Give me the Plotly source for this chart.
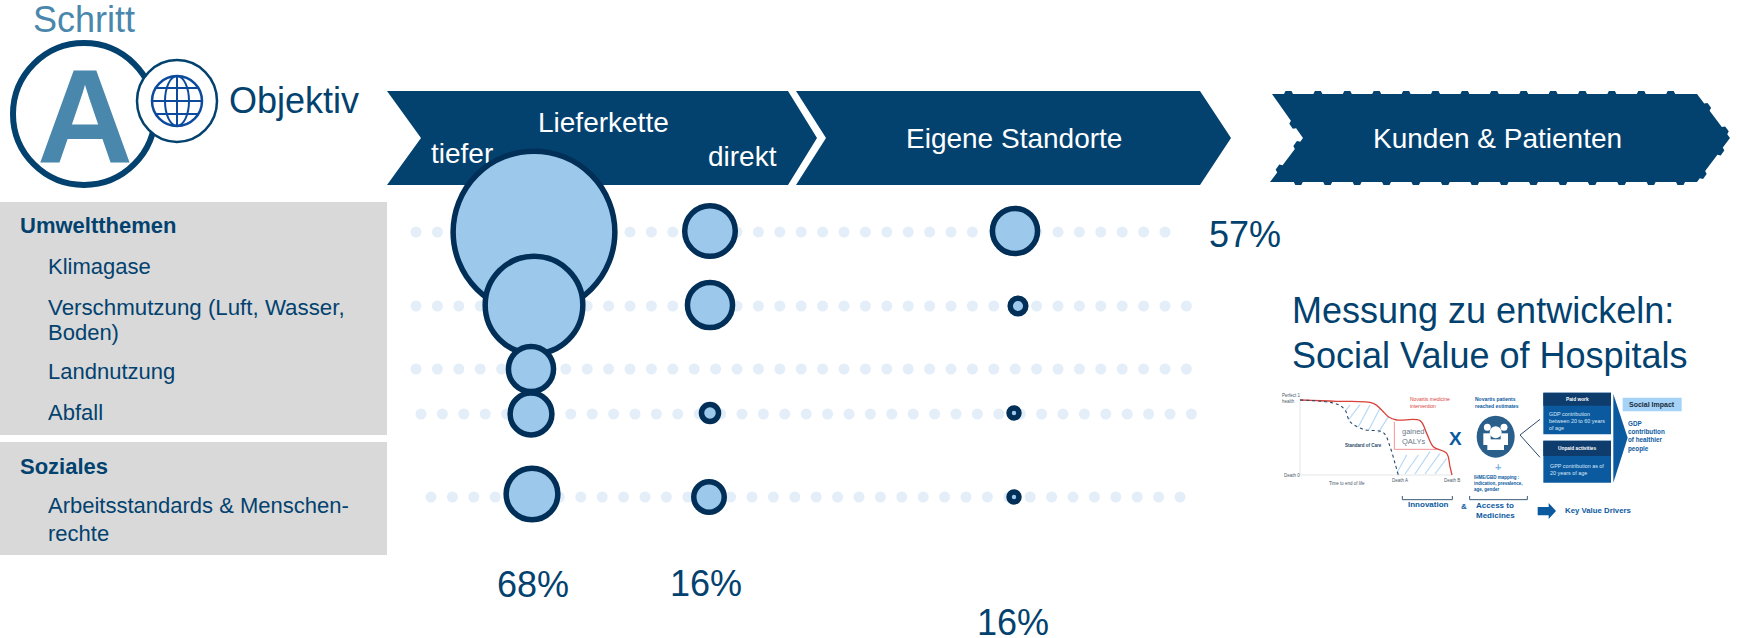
import plotly.graph_objects as go

FONT = "Liberation Sans"
NAVY = "#03426F"
STEEL = "#4A87AD"
BUB = "#9BC8EB"
BUBLINE = "#012F57"
DOT = "#E4EEF8"
GREY = "#D9D9D9"
INK = "#0B5AA0"

# ---- data ----
stages = ["tiefer", "direkt", "Eigene Standorte"]
topics = ["Klimagase", "Verschmutzung", "Landnutzung", "Abfall", "Arbeitsstandards"]
row_y = [232, 306, 369, 414, 497]
# estimated impact share (bubble area) per topic and stage, None = no bubble
impact_tiefer = [45.0, 16.4, 3.5, 3.0, 4.6]
impact_direkt = [4.4, 3.5, None, 0.5, 1.6]
impact_eigene = [3.5, 0.42, None, 0.17, 0.17]
x_tiefer = [534, 534, 531, 531, 532]
x_direkt = [710, 710, None, 710, 709]
x_eigene = [1015, 1018, None, 1014, 1014]
y_tiefer = [232, 305, 369, 414, 494]
y_direkt = [231, 305, None, 413, 497]
y_eigene = [231, 306, None, 413, 497]
area_scale = 0.00344
# leader dots: first x, last x per topic
dot_start = [416, 416, 416, 421, 431]
dot_end = [1170, 1187, 1187, 1193, 1199]
dot_step = 21.4

curve_x_novartis = [150, 260, 370, 395, 415, 440, 510, 530, 550, 590, 600, 606]
curve_y_novartis = [90, 94, 100, 120, 140, 150, 152, 190, 230, 250, 290, 315]
curve_x_soc = [150, 260, 285, 300, 340, 400, 420, 435, 445]
curve_y_soc = [90, 102, 120, 155, 178, 188, 230, 280, 315]

fig = go.Figure()
shapes = []
ann = []


def text(x, y, s, size, color=NAVY, anchor="left", bold=False, family=FONT):
    ann.append(dict(x=x, y=y, text=("<b>%s</b>" % s) if bold else s, showarrow=False,
                    xanchor=anchor, yanchor="middle", xref="x", yref="y",
                    font=dict(family=family, size=size, color=color), align="left",
                    borderpad=0, borderwidth=0))


def poly(points, fill, line=None, lw=0):
    p = "M " + " L ".join("%.2f,%.2f" % pt for pt in points) + " Z"
    shapes.append(dict(type="path", path=p, fillcolor=fill, xref="x", yref="y", layer="below",
                       line=dict(width=lw, color=line or fill)))


def rect(x0, y0, x1, y1, fill, line=None, lw=0):
    shapes.append(dict(type="rect", x0=x0, y0=y0, x1=x1, y1=y1, fillcolor=fill, xref="x", yref="y",
                       layer="below", line=dict(width=lw, color=line or fill)))


def oval(cx, cy, rx, ry, fill="rgba(0,0,0,0)", line=None, lw=0):
    shapes.append(dict(type="circle", x0=cx - rx, x1=cx + rx, y0=cy - ry, y1=cy + ry, fillcolor=fill,
                       xref="x", yref="y", layer="below", line=dict(width=lw, color=line or fill)))


def seg(x0, y0, x1, y1, color, lw=1, dash=None):
    shapes.append(dict(type="line", x0=x0, x1=x1, y0=y0, y1=y1, xref="x", yref="y", layer="below",
                       line=dict(width=lw, color=color, dash=dash or "solid")))


def tabbed(corners, period=29.4, w=9, h=3):
    out = []
    n = len(corners)
    for i in range(n):
        (x0, y0), (x1, y1) = corners[i], corners[(i + 1) % n]
        dx, dy = x1 - x0, y1 - y0
        L = (dx * dx + dy * dy) ** 0.5
        ux, uy = dx / L, dy / L
        nx, ny = uy, -ux
        out.append((x0, y0))
        t = 12.0
        while t + w < L - 4:
            for a, o in ((t, 0), (t + 1.5, h), (t + w - 1.5, h), (t + w, 0)):
                out.append((x0 + ux * a + nx * o, y0 + uy * a + ny * o))
            t += period
    return out


# ---- chevrons ----
poly([(387, 91), (788, 91), (817, 138), (788, 185), (387, 185), (421, 138)], NAVY)
poly([(796, 91), (1200, 91), (1231, 138), (1200, 185), (796, 185), (826, 138)], NAVY)
poly(tabbed([(1272, 94), (1697, 94), (1730, 138), (1697, 182), (1270, 182), (1303, 138)]), NAVY)
text(603, 122, "Lieferkette", 28, "white", "center")
text(708, 156, "direkt", 28, "white")
text(1014, 138, "Eigene Standorte", 28, "white", "center")
text(1497, 138, "Kunden &amp; Patienten", 28, "white", "center")

# ---- left panels ----
rect(0, 202, 387, 435, GREY)
rect(0, 442, 387, 555, GREY)
text(20, 225, "Umweltthemen", 22, bold=True)
text(48, 266, "Klimagase", 22)
text(48, 307, "Verschmutzung (Luft, Wasser,", 22.3)
text(48, 332, "Boden)", 22)
text(48, 371, "Landnutzung", 22)
text(48, 412, "Abfall", 22)
text(20, 466, "Soziales", 22, bold=True)
text(48, 505, "Arbeitsstandards &amp; Menschen-", 22)
text(48, 533, "rechte", 22)

# ---- logo ----
text(33, 19, "Schritt", 36, STEEL)
text(229, 100, "Objektiv", 36)
oval(84, 114, 71, 71, "white", NAVY, 6)
text(85, 117, "A", 133, STEEL, "center", bold=True)
oval(177, 101, 40, 41, "white", NAVY, 2.5)
GL = "#0B4A9C"
oval(177, 101, 25, 25, "rgba(0,0,0,0)", GL, 2.5)
oval(177, 101, 12, 25, "rgba(0,0,0,0)", GL, 2)
seg(177, 76, 177, 126, GL, 2)
seg(152, 101, 202, 101, GL, 2)
seg(156, 88, 198, 88, GL, 2)
seg(156, 114, 198, 114, GL, 2)

# ---- totals ----
text(1209, 234, "57%", 36)
text(533, 584, "68%", 36, anchor="center")
text(706, 583, "16%", 36, anchor="center")
text(1013, 622, "16%", 36, anchor="center")
text(1292, 310, "Messung zu entwickeln:", 36)
text(1292, 355, "Social Value of Hospitals", 36)


# ---- inset infographic, given in its own sub-frame ----
def ix(v):
    return 1250 + v / 3


def iy(v):
    return 370 + v / 3


def itext(x, y, s, size=6, color="#4A5A6A", anchor="center", bold=False):
    text(ix(x), iy(y), s, size, color, anchor, bold)


seg(ix(150), iy(85), ix(150), iy(315), "#E6E6E6", 1)
seg(ix(150), iy(315), ix(605), iy(315), "#E6E6E6", 1)
HATCH = "#B8D8F4"
for a, b, c, d in [(300, 105, 285, 125), (330, 104, 295, 150), (360, 105, 325, 170), (390, 115, 355, 182),
                   (415, 140, 385, 188), (470, 255, 440, 310), (505, 255, 465, 312), (540, 245, 495, 312),
                   (570, 250, 525, 312), (590, 265, 555, 312)]:
    seg(ix(a), iy(b), ix(c), iy(d), HATCH, 1.2)
seg(ix(433), iy(155), ix(433), iy(238), "#E77", 0.8)
seg(ix(433), iy(238), ix(560), iy(238), "#E77", 0.8)
itext(125, 84, "Perfect 1<br>health", 4.5)
itext(125, 315, "Death 0", 4.5)
itext(290, 340, "Time to end of life", 4.5)
itext(450, 332, "Death A", 4.5)
itext(605, 332, "Death B", 4.5)
itext(340, 226, "Standard of Care", 4.5, "#2A4A6A", bold=True)
itext(490, 198, "gained<br>QALYs", 7.5, "#6A7A8A")
itext(540, 98, "Novartis medicine<br>intervention", 5, "#D9423A")
itext(740, 97, "Novartis patients<br>reached estimates", 5, INK, bold=True)
itext(617, 205, "X", 19, INK, bold=True)
oval(ix(737), iy(200), 19, 21, "#2A5F8C")
for cx, cy, r in [(712, 172, 3.5), (762, 172, 3.5), (737, 187, 6)]:
    oval(ix(cx), iy(cy), r, r, "white")
rect(ix(700), iy(190), ix(722), iy(225), "white")
rect(ix(752), iy(190), ix(774), iy(225), "white")
rect(ix(712), iy(208), ix(762), iy(240), "white")
itext(744, 292, "+", 11, "#7FB2E5", bold=True)
itext(745, 340, "IHME/GBD mapping :<br>indication, prevalence,<br>age, gender", 4.5, INK, bold=True)
seg(ix(810), iy(195), ix(870), iy(148), "#2A4A6A", 1)
seg(ix(810), iy(195), ix(870), iy(262), "#2A4A6A", 1)
rect(ix(880), iy(68), ix(1083), iy(193), INK)
rect(ix(880), iy(68), ix(1083), iy(107), "#0E3C6C")
rect(ix(880), iy(212), ix(1083), iy(338), INK)
rect(ix(880), iy(212), ix(1083), iy(258), "#0E3C6C")
itext(982, 87, "Paid work", 4.8, "white", bold=True)
itext(982, 152, "GDP contribution<br>between 20 to 60 years<br>of age", 5.4, "#D8E8F6")
itext(982, 234, "Unpaid activities", 4.8, "white", bold=True)
itext(982, 298, "GPP contribution as of<br>20 years of age", 5.4, "#D8E8F6")
poly([(ix(1090), iy(72)), (ix(1133), iy(203)), (ix(1090), iy(338))], INK)
rect(ix(1118), iy(83), ix(1295), iy(124), "#A5D3F7")
itext(1205, 104, "Social Impact", 7, "#1A2A3A", bold=True)
itext(1134, 200, "GDP<br>contribution<br>of healthier<br>people", 6.3, INK, "left", True)
for x0, x1 in [(457, 607), (659, 832)]:
    seg(ix(x0), iy(389), ix(x1), iy(389), "#3A5A7A", 1)
    seg(ix(x0), iy(378), ix(x0), iy(389), "#3A5A7A", 1)
    seg(ix(x1), iy(378), ix(x1), iy(389), "#3A5A7A", 1)
itext(535, 404, "Innovation", 8, INK, bold=True)
itext(642, 409, "&amp;", 8, INK, bold=True)
itext(677, 421, "Access to<br>Medicines", 8, INK, "left", True)
poly([(ix(863), iy(411)), (ix(896), iy(411)), (ix(896), iy(399)), (ix(918), iy(423)), (ix(896), iy(447)),
      (ix(896), iy(436)), (ix(863), iy(436))], INK)
itext(945, 422, "Key Value Drivers", 7.8, INK, "left", True)

fig.add_trace(go.Scatter(x=[ix(v) for v in curve_x_novartis], y=[iy(v) for v in curve_y_novartis], mode="lines",
                         line=dict(color="#D9423A", width=1.3, shape="spline"), hoverinfo="skip"))
fig.add_trace(go.Scatter(x=[ix(v) for v in curve_x_soc], y=[iy(v) for v in curve_y_soc], mode="lines",
                         line=dict(color="#2A4A6A", width=1.1, dash="dot", shape="spline"), hoverinfo="skip"))

# ---- leader dots ----
for y, a, b in zip(row_y, dot_start, dot_end):
    xs, x = [], a
    while x <= b:
        xs.append(x)
        x += dot_step
    fig.add_trace(go.Scatter(x=xs, y=[y] * len(xs), mode="markers", hoverinfo="skip",
                             marker=dict(size=11, color=DOT, line=dict(width=0))))

# 'tiefer' sits under the biggest bubble
fig.add_trace(go.Scatter(x=[431], y=[156], mode="text", text=[stages[0]], textposition="middle right",
                         textfont=dict(family=FONT, size=28, color="white"), hoverinfo="skip"))

# ---- bubbles ----
for stage, values, xs, ys in zip(reversed(stages),
                                 [impact_eigene, impact_direkt, impact_tiefer],
                                 [x_eigene, x_direkt, x_tiefer],
                                 [y_eigene, y_direkt, y_tiefer]):
    keep = [(x, y, v) for x, y, v in zip(xs, ys, values) if v is not None]
    fig.add_trace(go.Scatter(x=[k[0] for k in keep], y=[k[1] for k in keep], mode="markers",
                             name=stage, hoverinfo="skip",
                             marker=dict(size=[k[2] for k in keep], sizemode="area", sizeref=area_scale,
                                         sizemin=1, color=BUB, opacity=1,
                                         line=dict(color=BUBLINE, width=5.5))))

fig.update_layout(
    width=1737, height=638, margin=dict(l=0, r=0, t=0, b=0), showlegend=False,
    paper_bgcolor="white", plot_bgcolor="white", shapes=shapes, annotations=ann,
    xaxis=dict(range=[0, 1737], visible=False, fixedrange=True),
    yaxis=dict(range=[638, 0], visible=False, fixedrange=True),
)
fig.write_html("out.html", config=dict(displayModeBar=False),
               post_script="document.body.style.margin='0';document.body.style.overflow='hidden';")
